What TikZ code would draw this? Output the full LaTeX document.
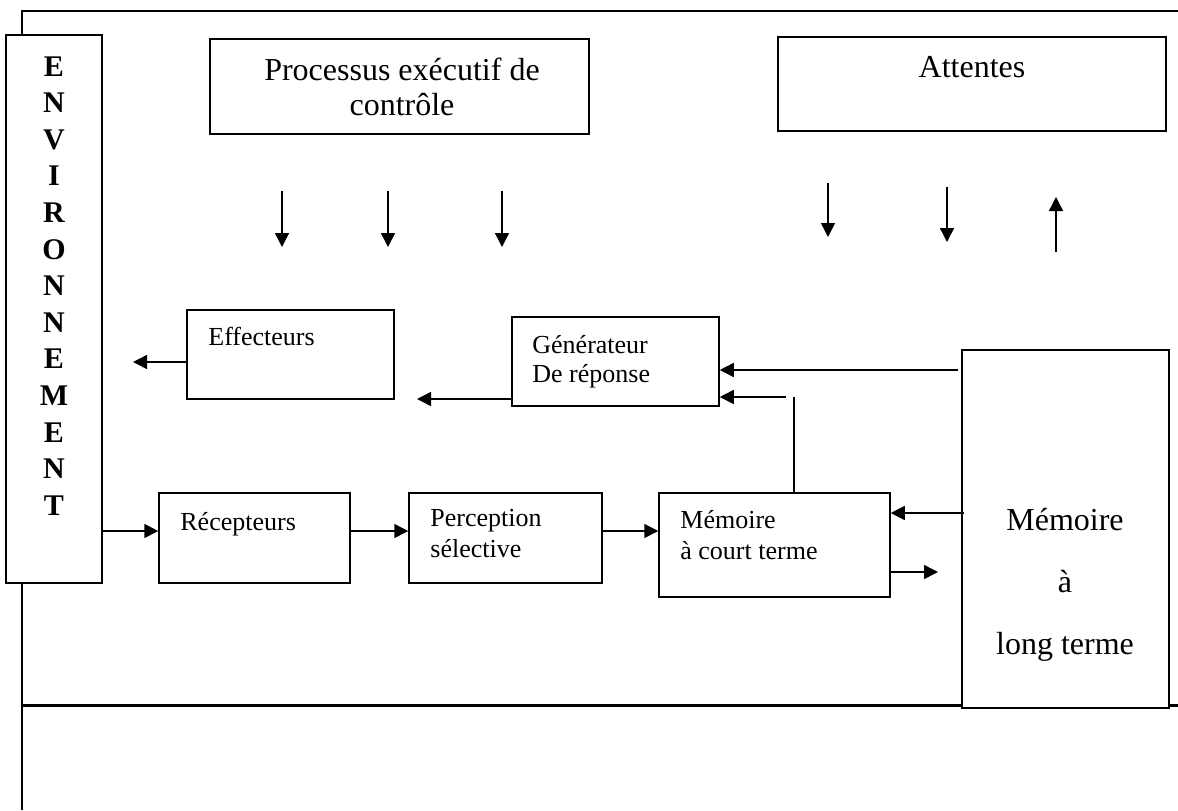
\documentclass[tikz,border=0pt]{standalone}
\usepackage{fontspec}
\setmainfont{Liberation Serif}
\usetikzlibrary{arrows.meta,fit}
\tikzstyle{arrow} = [draw, -{Triangle[length=7pt,width=7pt]}, line width=0.75pt]
\tikzstyle{boite} = [draw, fill=white, line width=0.75pt, inner sep=0pt]
\tikzstyle{texte} = [inner sep=0pt, align=left, font=\fontsize{13}{15.5}\selectfont]
\tikzstyle{grand} = [inner sep=0pt, align=center, font=\fontsize{16}{17.5}\selectfont]

\begin{document}
\begin{tikzpicture}[x=0.5pt, y=-0.5pt]
\useasboundingbox (0,0) rectangle (1178,810);

% cadre
\draw[line width=1pt] (22,35) -- (22,11) -- (1178,11);
\draw[line width=1pt] (22,583) -- (22,810);
\draw[line width=1.5pt] (22,705) -- (1178,705);

% boites
\node[boite, fit={(6,35) (102,583)}] (env) {};
\node[inner sep=0pt, anchor=north, align=center, font=\fontsize{15}{18.3}\selectfont\bfseries] at (54,56) (envtxt)
  {E\\N\\V\\I\\R\\O\\N\\N\\E\\M\\E\\N\\T};

\node[boite, fit={(210,39) (589,134)}] (proc) {};
\node[grand, anchor=north] at (402,58) (proctxt) {Processus exécutif de\\contrôle};

\node[boite, fit={(778,37) (1166,131)}] (att) {};
\node[grand, anchor=base] at (972,77) (atttxt) {Attentes};

\node[boite, fit={(187,310) (394,399)}] (eff) {};
\node[texte, anchor=base west] at (208,345) (efftxt) {Effecteurs};

\node[boite, fit={(512,317) (719,406)}] (gen) {};
\node[texte, anchor=north west, font=\fontsize{13}{14.5}\selectfont] at (532,335) (gentxt) {Générateur\\De réponse};

\node[boite, fit={(159,493) (350,583)}] (rec) {};
\node[texte, anchor=base west] at (180,530) (rectxt) {Récepteurs};

\node[boite, fit={(409,493) (602,583)}] (perc) {};
\node[texte, anchor=north west] at (430,509) (perctxt) {Perception\\sélective};

\node[boite, fit={(659,493) (890,597)}] (mct) {};
\node[texte, anchor=north west] at (680,510) (mcttxt) {Mémoire\\à court terme};

\node[boite, fit={(962,350) (1169,708)}] (mlt) {};
\node[grand, anchor=north, font=\fontsize{16}{31}\selectfont] at (1065,508) (mlttxt) {Mémoire\\à\\long terme};

% fleches du haut
\coordinate (pa) at (282,191); \coordinate (pb) at (388,191); \coordinate (pc) at (502,191);
\foreach \p in {pa,pb,pc}
  \draw[arrow] (\p) -- ++(0,56);
\coordinate (aa) at (828,183); \coordinate (ab) at (947,187); \coordinate (ac) at (1056,252);
\draw[arrow] (aa) -- ++(0,54);
\draw[arrow] (ab) -- ++(0,55);
\draw[arrow] (ac) -- ++(0,-55);

% sorties
\coordinate (effout) at (133,362);
\draw[arrow] (eff.west |- effout) -- (effout);
\coordinate (genout) at (417,399);
\draw[arrow] (gen.west |- genout) -- (genout);

% retours vers le generateur
\coordinate (mltgen) at (958,370);
\draw[arrow] (mltgen) -- (gen.east |- mltgen);
\coordinate (mctgen) at (786,397);
\coordinate (mctup) at (794,397);
\draw[line width=0.75pt] (mct.north -| mctup) -- (mctup);
\draw[arrow] (mctgen) -- (gen.east |- mctgen);

% chaine du bas
\coordinate (row) at (0,531);
\draw[arrow] (env.east |- row) -- (rec.west |- row);
\draw[arrow] (rec.east |- row) -- (perc.west |- row);
\draw[arrow] (perc.east |- row) -- (mct.west |- row);
\coordinate (mltmct) at (964,513);
\draw[arrow] (mltmct) -- (mct.east |- mltmct);
\coordinate (mctout) at (938,572);
\draw[arrow] (mct.east |- mctout) -- (mctout);
\end{tikzpicture}
\end{document}
